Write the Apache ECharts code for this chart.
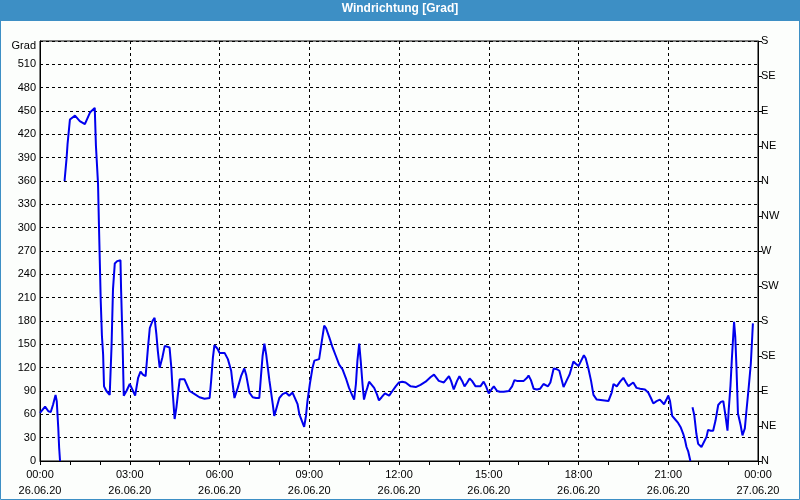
<!DOCTYPE html>
<html>
<head>
<meta charset="utf-8">
<script src="https://cdn.jsdelivr.net/npm/echarts@6/dist/echarts.min.js"></script>
<style>
html,body{margin:0;padding:0;background:#fff;}
#chart{width:800px;height:500px;}
</style>
</head>
<body>
<div id="chart"></div>
<script>
// Time of day in hours (0 = 26.06.20 00:00), wind direction in degrees; null = gap
var hours = [
0.0,0.17,0.28,0.36,0.44,0.52,0.56,0.61,0.64,0.67,0.75,
0.82,0.89,0.92,1.0,1.17,1.33,1.5,1.67,1.83,1.87,1.94,1.97,2.0,2.03,2.07,2.11,2.14,2.22,2.33,2.39,2.44,2.5,2.58,2.69,2.71,2.76,2.8,2.89,
3.0,3.11,3.18,3.28,3.36,3.44,3.53,3.61,3.67,3.76,3.83,3.89,3.94,4.0,4.09,4.17,4.22,4.33,4.39,4.44,4.5,4.56,4.61,4.67,4.83,5.0,5.17,5.33,5.5,5.67,5.72,5.78,5.83,5.94,
6.0,6.17,6.28,6.39,6.44,6.5,6.61,6.72,6.83,6.89,7.0,7.11,7.22,7.33,7.39,7.44,7.5,7.56,7.67,7.78,7.83,7.89,8.0,8.11,8.22,8.33,8.44,8.5,8.61,8.67,8.76,8.83,8.89,8.94,
9.02,9.11,9.17,9.33,9.42,9.5,9.56,9.67,9.78,9.89,10.0,10.11,10.22,10.33,10.44,10.5,10.56,10.61,10.67,10.72,10.78,10.83,10.89,10.94,11.0,11.06,11.17,11.26,11.33,11.42,11.53,11.67,11.78,11.89,
12.0,12.11,12.22,12.39,12.56,12.72,12.89,13.06,13.17,13.22,13.33,13.5,13.55,13.67,13.74,13.83,13.94,14.02,14.11,14.19,14.28,14.36,14.44,14.56,14.72,14.83,14.91,
15.0,15.09,15.17,15.28,15.37,15.5,15.67,15.78,15.86,15.94,16.17,16.28,16.33,16.41,16.5,16.61,16.72,16.83,16.89,16.98,17.06,17.17,17.28,17.36,17.5,17.61,17.7,17.83,17.91,
18.0,18.09,18.18,18.24,18.33,18.42,18.5,18.61,18.67,19.0,19.11,19.17,19.28,19.39,19.5,19.59,19.67,19.76,19.83,19.94,20.06,20.22,20.33,20.42,20.5,20.61,20.72,20.86,20.94,
21.0,21.06,21.13,21.22,21.33,21.42,21.5,21.56,21.61,21.67,21.74,21.78,
21.81,21.87,21.94,22.0,22.11,22.17,22.28,22.33,22.42,22.5,22.58,22.67,22.76,22.84,22.91,22.98,23.02,23.08,23.13,23.2,23.24,23.28,23.33,23.42,23.48,23.56,23.61,23.69,23.76,23.81,23.83
];
var degrees = [
62,70,64,63,73,85,77,43,17,0,null,
360,390,407,439,444,437,433,448,454,405,356,304,255,206,161,137,96,90,85,146,221,254,257,258,221,152,84,90,
99,90,84,107,115,111,109,146,171,180,184,163,141,120,133,148,148,146,120,86,54,69,86,105,105,90,86,82,80,81,103,133,149,144,
139,139,131,116,99,81,94,109,119,111,88,82,81,81,111,135,151,137,103,73,58,66,81,86,88,84,88,86,73,60,51,44,58,77,
99,120,129,131,154,174,171,159,146,135,124,118,107,94,84,79,99,129,151,129,99,79,88,94,102,101,94,86,78,82,87,84,90,96,
101,102,101,96,95,98,102,108,111,109,103,101,103,109,103,92,103,109,103,96,101,106,103,96,96,102,96,
87,92,96,90,89,89,90,96,104,103,103,107,110,104,93,92,93,99,99,96,101,119,118,116,95,104,111,128,125,
122,129,136,132,119,103,85,79,77,77,88,99,96,102,107,101,96,99,101,94,93,92,88,81,74,77,79,73,79,
84,77,58,54,49,43,35,27,18,12,0,null,
69,59,35,22,18,16,31,40,39,39,52,72,76,77,59,39,65,97,134,179,160,121,61,46,33,42,63,95,125,162,177
];
var leftTicks = [0,30,60,90,120,150,180,210,240,270,300,330,360,390,420,450,480,510,540];
var rightLabels = ['N','NE','E','SE','S','SW','W','NW','N','NE','E','SE','S'];
var dayLabels = ['26.06.20','27.06.20'];

var points = hours.map(function(h, i){ return [h, degrees[i]]; });

var chart = echarts.init(document.getElementById('chart'), null, {renderer:'canvas'});
var fontFam = 'Liberation Sans, DejaVu Sans, sans-serif';
var blue = '#3d8fc5';

chart.setOption({
  animation: false,
  backgroundColor: '#fcfefc',
  graphic: [
    {type:'rect', shape:{x:0,y:0,width:800,height:21}, style:{fill:blue}, z:0},
    {type:'rect', shape:{x:0.5,y:0.5,width:799,height:499}, style:{fill:null, stroke:blue, lineWidth:1}, z:0}
  ],
  title: {
    text: 'Windrichtung [Grad]',
    left: 'center', top: 3, padding: 0,
    textStyle: {color:'#fff', fontSize:12, fontWeight:'bold', fontFamily:fontFam}
  },
  grid: {left:40, right:42, top:41, bottom:39, show:true, borderColor:'#000', borderWidth:1, backgroundColor:'transparent'},
  xAxis: {
    type:'value', min:0, max:24, interval:3,
    axisLine:{show:true, lineStyle:{color:'#000', width:1}},
    axisTick:{show:true, length:4, lineStyle:{color:'#000'}},
    minorTick:{show:true, splitNumber:3, length:4, lineStyle:{color:'#000'}},
    splitLine:{show:true, lineStyle:{color:'#000', type:[3,3], width:1}},
    axisLabel:{
      color:'#000', fontSize:11, fontFamily:fontFam, lineHeight:16, margin:6,
      formatter:function(v){ return '00:00'.replace('00', (v%24<10?'0':'')+(v%24)) + '\n' + (v>=24?dayLabels[1]:dayLabels[0]); }
    }
  },
  yAxis: [
    {
      type:'value', min:0, max:540, interval:30, position:'left',
      axisLine:{show:true, lineStyle:{color:'#000'}},
      axisTick:{show:false},
      splitLine:{show:true, lineStyle:{color:'#000', type:[3,3], width:1}},
      axisLabel:{color:'#000', fontSize:11, fontFamily:fontFam, margin:4,
        rich:{g:{color:'#000', fontSize:11, fontFamily:fontFam, padding:[10,0,0,0]}},
        formatter:function(v){ return v===leftTicks[leftTicks.length-1] ? '{g|Grad}' : String(v); }}
    },
    {
      type:'value', min:0, max:540, interval:45, position:'right',
      axisLine:{show:true, lineStyle:{color:'#000'}},
      axisTick:{show:true, length:4, lineStyle:{color:'#000'}},
      splitLine:{show:false},
      axisLabel:{color:'#000', fontSize:11, fontFamily:fontFam, margin:3,
        formatter:function(v){ return rightLabels[Math.round(v/45)]; }}
    }
  ],
  series: [{
    type:'line', data:points, yAxisIndex:0,
    showSymbol:false, connectNulls:false,
    lineStyle:{color:'#0000ee', width:2},
    z:5
  }]
});
</script>
</body>
</html>
